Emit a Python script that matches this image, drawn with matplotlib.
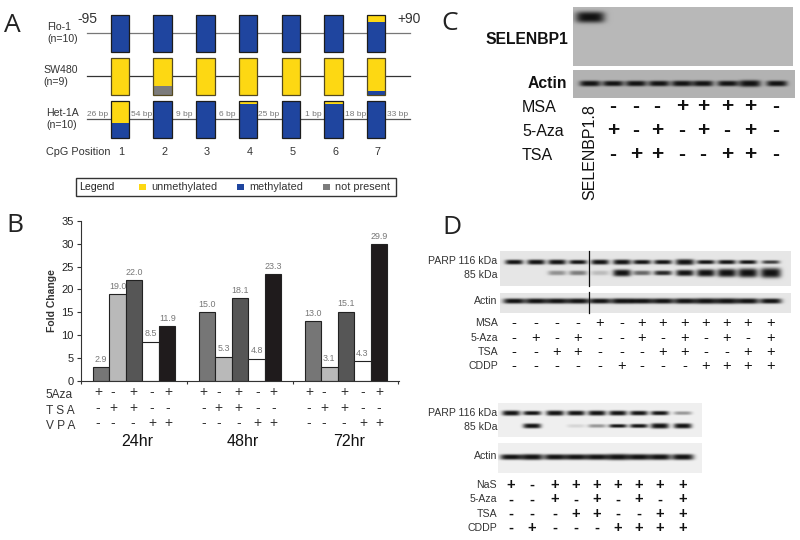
import numpy as np
import matplotlib
matplotlib.use('Agg')
import matplotlib.pyplot as plt
from matplotlib.patches import Rectangle

plt.rcParams['font.family'] = ['Liberation Sans', 'DejaVu Sans']

# panel A: fractions per CpG position, top to bottom of each box
cpg_positions = [1, 2, 3, 4, 5, 6, 7]
cell_lines = ['Flo-1\n(n=10)', 'SW480\n(n=9)', 'Het-1A\n(n=10)']
unmethylated = [[0, 0, 0, 0, 0, 0, 0.2],
                [1, 0.77, 1, 1, 1, 1, 0.88],
                [0.6, 0, 0, 0.1, 0, 0.1, 0]]
not_present = [[0, 0, 0, 0, 0, 0, 0],
               [0, 0.23, 0, 0, 0, 0, 0],
               [0, 0, 0, 0, 0, 0, 0]]
gap_labels = ['26 bp', '54 bp', '9 bp', '6 bp', '25 bp', '1 bp', '18 bp', '33 bp']

# panel B
fold_change = [[2.9, 19.0, 22.0, 8.5, 11.9],
               [15.0, 5.3, 18.1, 4.8, 23.3],
               [13.0, 3.1, 15.1, 4.3, 29.9]]
fold_text = [['2.9', '19.0', '22.0', '8.5', '11.9'],
             ['15.0', '5.3', '18.1', '4.8', '23.3'],
             ['13.0', '3.1', '15.1', '4.3', '29.9']]
hours = ['24hr', '48hr', '72hr']
b_aza = '+-+-+'
b_tsa = '-++--'
b_vpa = '---++'

# panel C
c_msa = '---++++-'
c_aza = '+-+-+-+-'
c_tsa = '-++--++-'
c_actin = [0.95, 0.85, 0.9, 0.9, 0.95, 0.95, 0.9, 1.3, 0.95]

# panel D top
d1_msa = '----+-+++++++'
d1_aza = '-+-+--+-+-+-+'
d1_tsa = '--++---++--++'
d1_cddp = '-----+---++++'
d1_116 = [0.85, 0.95, 0.95, 0.7, 0.95, 1.0, 0.75, 0.75, 1.3, 0.65, 0.7, 0.6, 0.4]
d1_85 = [0, 0, 0.2, 0.25, 0.1, 1.05, 0.3, 0.45, 0.85, 1.2, 1.5, 1.8, 2.2]
d1_actin = [0.9, 0.95, 0.95, 0.95, 0.9, 1.0, 0.95, 0.95, 1.0, 1.1, 1.1, 1.0, 0.9]

# panel D bottom
d2_nas = '+-+++++++'
d2_aza = '--+-+-+-+'
d2_tsa = '---++--++'
d2_cddp = '-+---++++'
d2_116 = [1.0, 0.7, 1.0, 0.9, 0.95, 0.9, 0.8, 0.7, 0.2]
d2_85 = [0, 0.9, 0, 0.06, 0.2, 0.5, 0.6, 1.1, 1.0]
d2_actin = [0.85, 1.0, 0.9, 0.9, 0.95, 1.1, 1.0, 1.0, 1.0]

YELLOW = '#fdd813'
BLUE = '#1f459f'
GRAY = '#7c7c7c'


def blot(ax, x0, x1, y0, y1, bg, lanes, rows, halfw=9.0):
    # rows is a list of (y centre, half height, strengths per lane)
    xs = np.linspace(x0, x1, int((x1 - x0) * 2))
    ys = np.linspace(y0, y1, int((y1 - y0) * 2))
    X, Y = np.meshgrid(xs, ys)
    dark = np.zeros_like(X)
    for yc, hh, strengths in rows:
        for cx, s in zip(lanes, strengths):
            if s <= 0:
                continue
            h = hh * np.sqrt(max(s, 0.5))
            w = halfw * (1 + 0.12 * max(s - 1, 0))
            dark += min(s * 2.0, 1.0) * np.exp(-((X - cx) / w) ** 4) * np.exp(-np.abs((Y - yc) / h) ** 3)
    img = bg - (bg - 0.07) * np.clip(dark, 0, 1)
    ax.imshow(img, extent=(x0, x1, y1, y0), cmap='gray', vmin=0, vmax=1,
              aspect='auto', interpolation='bilinear', zorder=1)


def signs(ax, xs, y, pattern, size=9.0, color='#111111', weight='normal'):
    for x, c in zip(xs, pattern):
        ax.text(x, y, c, ha='center', va='center', fontsize=size, color=color, fontweight=weight)


fig = plt.figure(figsize=(8, 5.4), dpi=100)
ax = fig.add_axes([0, 0, 1, 1])
ax.set_axis_off()

# panel letters
for letter, x, y in [('A', 4, 25), ('B', 6, 225), ('C', 441, 23), ('D', 442, 228)]:
    ax.text(x, y, letter, fontsize=19, color='#222222', va='center', ha='left',
            family=['Open Sans', 'DejaVu Sans'])

# ---- panel A
box_left = [110.7 + 42.7 * i for i in range(7)]
row_top = [14.7, 58, 100.7]
box_h = 37.0
box_w = 18.5
line_y = [33, 76, 119]
line_col = ['#777777', '#333333', '#555555']
for r in range(3):
    ax.plot([87, 410], [line_y[r], line_y[r]], color=line_col[r], lw=0.9, zorder=1)
    for i in range(7):
        u = unmethylated[r][i]
        n = not_present[r][i]
        m = 1 - u - n
        top = row_top[r]
        ax.add_patch(Rectangle((box_left[i], top), box_w, u * box_h, fc=YELLOW, ec='none', zorder=2))
        ax.add_patch(Rectangle((box_left[i], top + u * box_h), box_w, m * box_h, fc=BLUE, ec='none', zorder=2))
        ax.add_patch(Rectangle((box_left[i], top + (u + m) * box_h), box_w, n * box_h, fc=GRAY, ec='none', zorder=2))
        edge = '#1c1c1c' if r != 1 else '#554a20'
        ax.add_patch(Rectangle((box_left[i], top), box_w, box_h, fc='none', ec=edge, lw=0.9, zorder=3))

for label, x, y in zip(cell_lines, [47, 43, 46], [33, 76, 119]):
    ax.text(x, y, label, fontsize=7.6, color='#333333', va='center', ha='left', linespacing=1.25)
ax.text(77, 19, '-95', fontsize=10, color='#333333', va='center')
ax.text(397, 19, '+90', fontsize=10, color='#333333', va='center')
for x, t in zip([98, 142, 184, 227, 269, 313, 356, 398], gap_labels):
    ax.text(x, 114, t, fontsize=6, color='#777777', ha='center', va='center')
ax.text(46, 152, 'CpG Position', fontsize=7.8, color='#333333', va='center')
for i, p in enumerate(cpg_positions):
    ax.text(box_left[i] + 11, 152, str(p), fontsize=7.8, color='#333333', ha='center', va='center')

# legend box
ax.add_patch(Rectangle((76, 177.5), 320, 18, fc='white', ec='#333333', lw=1.0, zorder=2))
ax.text(79, 186.5, 'Legend', fontsize=7.6, color='#222222', va='center', zorder=3)
for x, col, t, tx in [(139, YELLOW, 'unmethylated', 151), (237, BLUE, 'methylated', 249), (323, GRAY, 'not present', 335)]:
    ax.add_patch(Rectangle((x, 183.5), 6.5, 6, fc=col, ec='none', zorder=3))
    ax.text(tx, 186.5, t, fontsize=7.8, color='#333333', va='center', zorder=3)

# ---- panel B labels under the bars
for g in range(3):
    cols = [98 + 105.5 * g + d for d in (0, 15, 35, 54, 70)]
    signs(ax, cols, 392, b_aza, size=10, color='#333333')
    signs(ax, cols, 408, b_tsa, size=10, color='#333333')
    signs(ax, cols, 423, b_vpa, size=10, color='#333333')
    ax.text(137 + 106 * g, 442, hours[g], fontsize=11.5, color='#111111', ha='center', va='center')
for label, y in [('5Aza', 395), ('T S A', 411), ('V P A', 426)]:
    ax.text(46, y, label, fontsize=8.6, color='#333333', va='center')

# ---- panel C
c_lanes = [590, 613, 636, 659, 682, 703, 728, 750, 777]
blot(ax, 573, 793, 7, 66, 0.72, [590], [(17, 4.0, [2.0])], halfw=13)
blot(ax, 573, 795, 70, 98, 0.70, c_lanes, [(83.5, 3.0, c_actin)], halfw=10.5)
ax.text(568, 40, 'SELENBP1', fontsize=11.3, fontweight='bold', color='#111111', ha='right', va='center')
ax.text(567, 83, 'Actin', fontsize=11.3, fontweight='bold', color='#111111', ha='right', va='center')
for label, y in [('MSA', 107), ('5-Aza', 132), ('TSA', 155)]:
    ax.text(522, y, label, fontsize=11.5, color='#111111', va='center', ha='left')
ax.text(590, 152, 'SELENBP1.8', fontsize=11.5, color='#111111', rotation=90, ha='center', va='center')
c_cols = [613, 636, 657, 682, 703, 727, 750, 776]
signs(ax, c_cols, 107, c_msa, size=15, weight='bold')
signs(ax, c_cols, 131, c_aza, size=15, weight='bold')
signs(ax, c_cols, 154, c_tsa, size=15, weight='bold')

# ---- panel D top
d1_lanes = [514, 536, 557, 578, 600, 622, 642, 663, 685, 706, 727, 748, 771]
blot(ax, 500, 791, 251, 286, 0.90, d1_lanes, [(262, 2.6, d1_116), (273, 3.4, d1_85)], halfw=9)
blot(ax, 500, 791, 293, 313, 0.90, d1_lanes, [(301, 2.8, d1_actin)], halfw=11)
ax.plot([589, 589], [251, 286], color='#111111', lw=0.9, zorder=2)
ax.plot([589, 589], [292, 313], color='#111111', lw=0.9, zorder=2)
ax.text(497, 261, 'PARP 116 kDa', fontsize=7.6, color='#333333', ha='right', va='center')
ax.text(497, 275, '85 kDa', fontsize=7.6, color='#333333', ha='right', va='center')
ax.text(497, 301, 'Actin', fontsize=7.6, color='#333333', ha='right', va='center')
for label, y, pat in [('MSA', 323.5, d1_msa), ('5-Aza', 338, d1_aza), ('TSA', 352, d1_tsa), ('CDDP', 366, d1_cddp)]:
    ax.text(498, y, label, fontsize=7.6, color='#333333', ha='right', va='center')
    signs(ax, d1_lanes, y, pat, size=10.5)

# ---- panel D bottom
d2_lanes = [511, 532, 555, 576, 597, 618, 639, 660, 683]
blot(ax, 498, 702, 403, 437, 0.94, d2_lanes, [(413, 2.6, d2_116), (426, 2.6, d2_85)], halfw=9)
blot(ax, 498, 702, 443, 473, 0.94, d2_lanes, [(457, 3.0, d2_actin)], halfw=11)
ax.text(497, 412.5, 'PARP 116 kDa', fontsize=7.6, color='#333333', ha='right', va='center')
ax.text(497, 427, '85 kDa', fontsize=7.6, color='#333333', ha='right', va='center')
ax.text(497, 456, 'Actin', fontsize=7.6, color='#333333', ha='right', va='center')
for label, y, pat in [('NaS', 485, d2_nas), ('5-Aza', 499.5, d2_aza), ('TSA', 514, d2_tsa), ('CDDP', 528, d2_cddp)]:
    ax.text(497, y, label, fontsize=7.6, color='#333333', ha='right', va='center')
    signs(ax, d2_lanes, y, pat, size=10.5, weight='bold')

ax.set_xlim(0, 800)
ax.set_ylim(540, 0)

# ---- panel B bars, on their own axes
W, H = 800.0, 540.0
bx = fig.add_axes([80.7 / W, 1 - 380.7 / H, (399 - 80.7) / W, (380.7 - 221) / H])
bx.patch.set_alpha(0)
bar_cols = ['#767676', '#b9b9b9', '#565656', '#ffffff', '#1f1b1c']
bar_step = 16.55
group_step = 105.9 / bar_step
for g in range(3):
    pos = [g * group_step + i for i in range(5)]
    bx.bar(pos, fold_change[g], width=1.0, color=bar_cols, edgecolor='#222222', linewidth=0.8)
    for p, v, t in zip(pos, fold_change[g], fold_text[g]):
        bx.text(p, v + 0.75, t, fontsize=6.4, color='#777777', ha='center', va='bottom')
left = (101 - 80.7) / bar_step
bx.set_xlim(-left, -left + (399 - 80.7) / bar_step)
bx.set_ylim(0, 35)
bx.set_yticks(range(0, 40, 5))
bx.set_xticks([-left + group_step * k for k in range(4)])
bx.set_xticklabels([])
bx.tick_params(axis='y', labelsize=8, length=3, width=0.8, pad=2, labelcolor='#222222', color='#333333')
bx.tick_params(axis='x', length=2.5, width=0.8, direction='out', color='#333333')
bx.spines['top'].set_visible(False)
bx.spines['right'].set_visible(False)
bx.spines['left'].set_color('#333333')
bx.spines['bottom'].set_color('#333333')
bx.set_ylabel('Fold Change', fontsize=7.5, fontweight='bold', color='#333333', labelpad=3)

fig.savefig('out.png', dpi=100)
